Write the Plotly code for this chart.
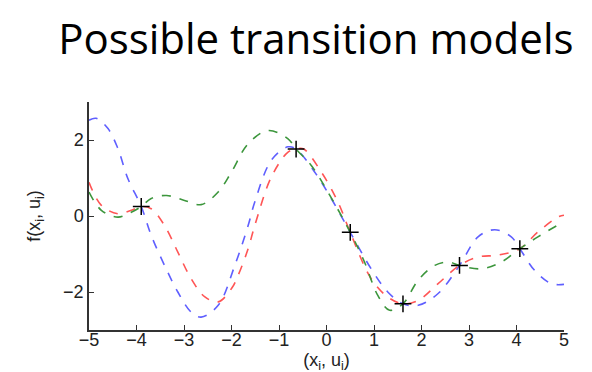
import plotly.graph_objects as go

# Observed data points (crosses)
obs_x = [-3.9, -0.64, 0.5, 1.61, 2.8, 4.07]
obs_y = [0.25, 1.76, -0.43, -2.31, -1.30, -0.86]

blue_x = [-5.0, -4.85, -4.6, -4.39, -4.18, -3.9, -3.69, -3.41, -3.13, -2.85, -2.64, -2.28,
          -1.93, -1.65, -1.51, -1.16, -0.81, -0.64, -0.25, 0.10, 0.5, 0.94, 1.29, 1.61,
          1.93, 2.35, 2.8, 3.19, 3.54, 3.89, 4.07, 4.38, 4.73, 5.0]
blue_y = [2.52, 2.57, 2.30, 1.77, 0.98, 0.25, -0.51, -1.30, -2.0, -2.53, -2.66, -2.35,
          -1.30, -0.25, 0.37, 1.47, 1.82, 1.76, 1.16, 0.46, -0.43, -1.39, -2.0, -2.31,
          -2.35, -2.04, -1.30, -0.55, -0.36, -0.55, -0.86, -1.43, -1.78, -1.80]

red_x = [-5.0, -4.74, -4.39, -4.11, -3.9, -3.69, -3.41, -3.13, -2.85, -2.56, -2.28, -2.0,
         -1.86, -1.65, -1.51, -1.16, -0.81, -0.64, -0.49, -0.11, 0.24, 0.5, 0.94, 1.29,
         1.61, 1.93, 2.35, 2.8, 3.19, 3.61, 4.07, 4.45, 4.87, 5.0]
red_y = [0.89, 0.28, 0.06, 0.15, 0.25, 0.19, -0.25, -0.95, -1.65, -2.13, -2.26, -1.91,
         -1.56, -0.86, -0.25, 1.03, 1.68, 1.76, 1.77, 1.16, 0.37, -0.43, -1.65, -2.13,
         -2.31, -2.22, -1.78, -1.30, -1.08, -1.03, -0.86, -0.42, -0.03, 0.02]

green_x = [-5.0, -4.74, -4.39, -4.11, -3.9, -3.69, -3.37, -2.99, -2.64, -2.28, -2.0, -1.65,
           -1.23, -0.81, -0.64, -0.32, 0.03, 0.5, 0.80, 1.08, 1.33, 1.61, 1.93, 2.28,
           2.56, 2.8, 3.26, 3.68, 4.07, 4.45, 4.94, 5.0]
green_y = [0.63, 0.15, -0.03, 0.10, 0.25, 0.46, 0.54, 0.41, 0.30, 0.63, 1.16, 1.90,
           2.25, 2.03, 1.76, 1.33, 0.63, -0.43, -1.21, -2.09, -2.48, -2.31, -1.69, -1.30,
           -1.21, -1.30, -1.39, -1.21, -0.86, -0.55, -0.20, -0.18]

x_ticks = [-5, -4, -3, -2, -1, 0, 1, 2, 3, 4, 5]
y_ticks = [-2, 0, 2]

fig = go.Figure()
for xs, ys, col in [(blue_x, blue_y, "rgb(95,95,255)"),
                    (red_x, red_y, "rgb(255,85,85)"),
                    (green_x, green_y, "rgb(60,150,60)")]:
    fig.add_trace(go.Scatter(x=xs, y=ys, mode="lines",
                             line=dict(color=col, width=1.6, dash="dash", shape="spline", smoothing=1.0),
                             showlegend=False, hoverinfo="skip"))

fig.add_trace(go.Scatter(x=obs_x, y=obs_y, mode="markers",
                         marker=dict(symbol="cross-thin", size=12, line=dict(color="black", width=1.5)),
                         showlegend=False))

fig.update_layout(
    width=592, height=372,
    margin=dict(l=81, r=36, t=94, b=50),
    paper_bgcolor="white", plot_bgcolor="white",
    title=dict(text="Possible transition models", x=0.52, xanchor="center", y=0.955, yanchor="top",
               font=dict(family="Open Sans, sans-serif", size=42, color="black")),
    font=dict(family="Liberation Sans, Arial, sans-serif", size=18, color="#222"),
    xaxis=dict(range=[-5, 5], tickvals=x_ticks, ticktext=[str(v).replace("-", "\u2212") for v in x_ticks],
               tickfont=dict(size=18), ticklabelstandoff=-7,
               showgrid=False, zeroline=False, showline=True, linecolor="#333", linewidth=1.5,
               ticks="inside", ticklen=5, tickcolor="#333", tickwidth=1.3,
               title=dict(text="(x<sub>i</sub>, u<sub>i</sub>)", standoff=0, font=dict(size=18))),
    yaxis=dict(range=[-3, 3], tickvals=y_ticks, ticktext=[str(v).replace("-", "\u2212") for v in y_ticks],
               tickfont=dict(size=18),
               showgrid=False, zeroline=False, showline=True, linecolor="#333", linewidth=1.5,
               ticks="inside", ticklen=5, tickcolor="#333", tickwidth=1.3,
               title=dict(text="f(x<sub>i</sub>, u<sub>i</sub>)", standoff=18, font=dict(size=18))),
)

fig.write_html("out.html")
